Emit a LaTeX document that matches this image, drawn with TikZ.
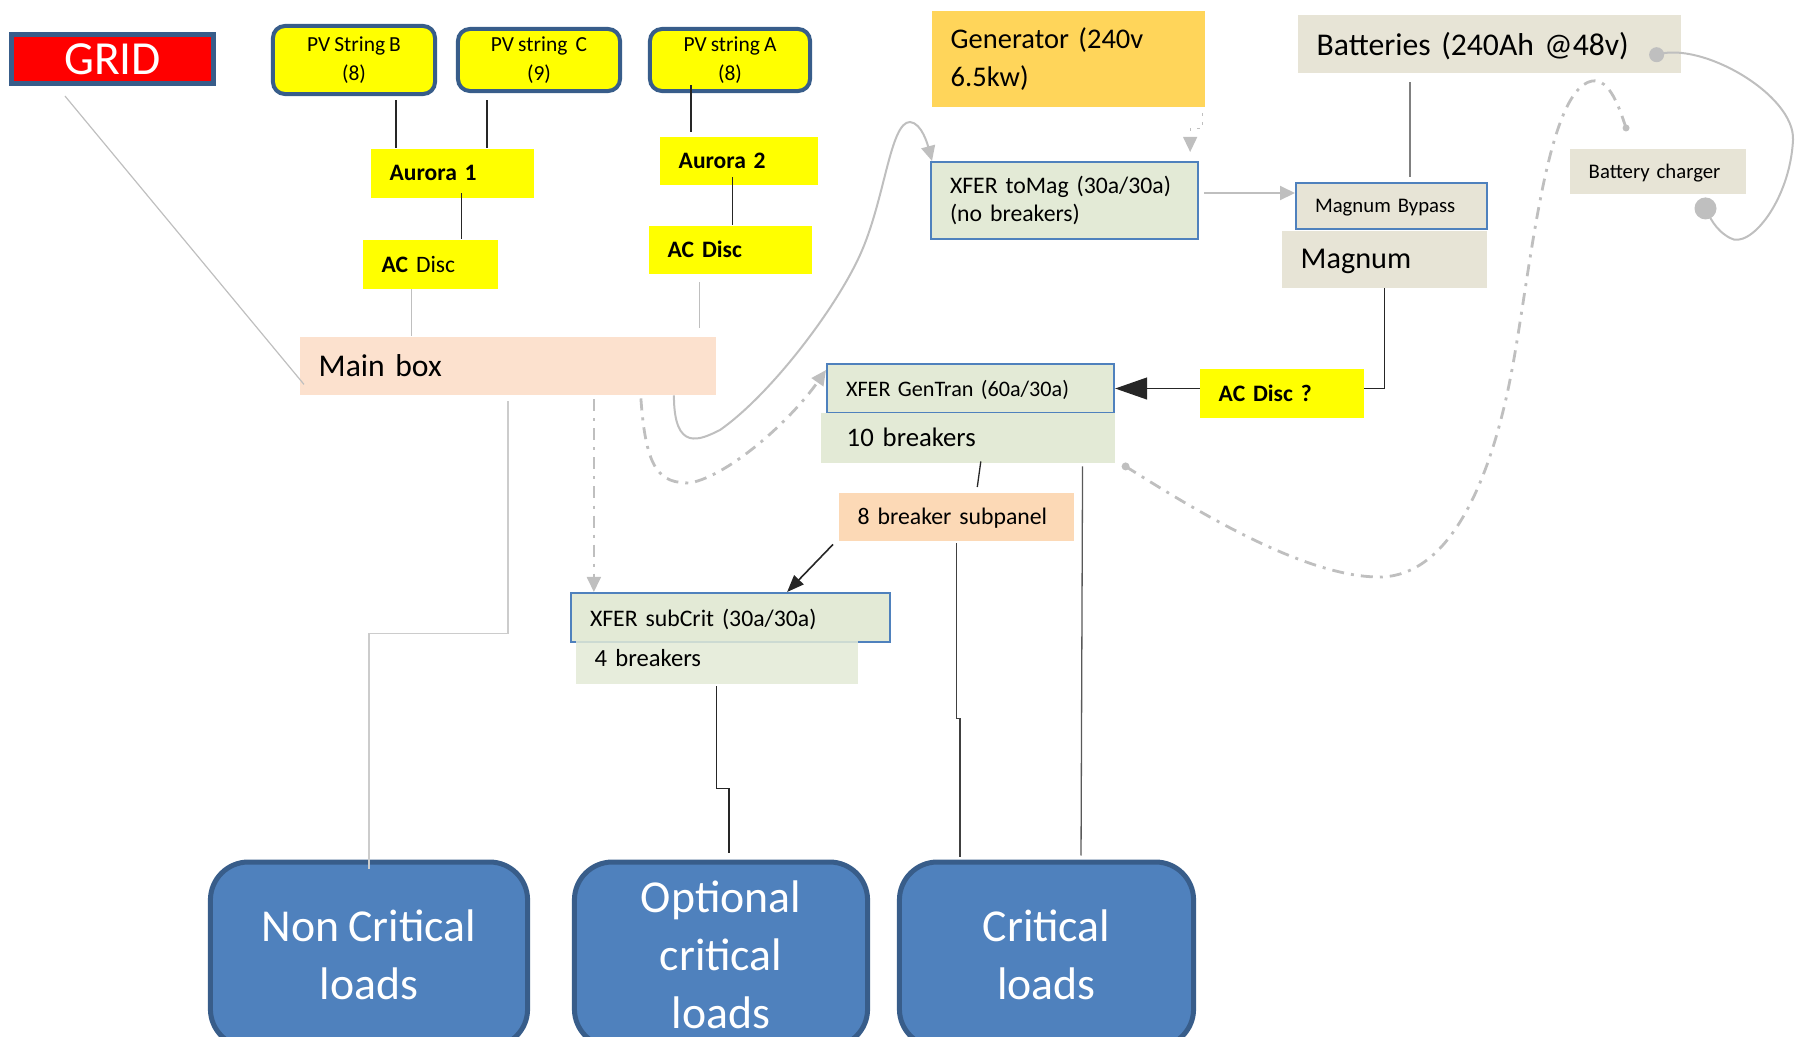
\documentclass[tikz,border=0pt]{standalone}
\usepackage{fontspec}
\setmainfont{Carlito}[WordSpace=0.85]
\usetikzlibrary{arrows.meta,backgrounds}
\definecolor{gridred}{HTML}{FF0000}
\definecolor{edgeblue}{HTML}{385D8A}
\definecolor{loadblue}{HTML}{4F81BD}
\definecolor{pvyellow}{HTML}{FFFF00}
\definecolor{genorange}{HTML}{FFD55A}
\definecolor{xfergreen}{HTML}{E3EAD6}
\definecolor{mainpeach}{HTML}{FCE1CE}
\definecolor{subpeach}{HTML}{FCD9B6}
\definecolor{battbeige}{HTML}{E7E4D6}
\definecolor{wiregray}{HTML}{BFBFBF}
\definecolor{wiredark}{HTML}{595959}
\tikzset{
  fsz/.style 2 args={font=\fontsize{#1}{#2}\selectfont},
  bxbase/.style={anchor=north west, align=left, inner xsep=0.19cm, inner ysep=0pt},
  bx/.style={bxbase, text depth=0pt},
  ylw/.style={bx, fill=pvyellow, font=\fontsize{6.7}{8}\selectfont\bfseries},
  xfer/.style={bx, fill=xfergreen, draw=loadblue, line width=0.02cm},
  tanbox/.style={bx, fill=battbeige},
  pv/.style={draw=edgeblue, line width=0.04cm, fill=pvyellow, rounded corners=0.12cm, align=center, inner sep=0pt, fsz={6.1}{8.4}},
  loadbox/.style={anchor=north, draw=edgeblue, line width=0.05cm, fill=loadblue, rounded corners=0.38cm, minimum width=3.17cm, minimum height=1.85cm, align=center, inner sep=0pt, text=white, fsz={13}{16.5}},
  wire/.style={line width=0.013cm, color=black!85},
  lgt/.style={line width=0.012cm, color=wiregray},
  dd/.style={dash pattern=on 0.12cm off 0.07cm on 0.03cm off 0.07cm},
  garr/.style={-{Triangle[length=0.15cm,width=0.14cm]}},
  barr/.style={-{Triangle[length=0.32cm,width=0.22cm]}},
  sarr/.style={-{Triangle[length=0.17cm,width=0.13cm]}},
}
\begin{document}
\begin{tikzpicture}[x=0.01cm, y=-0.01cm]
  \useasboundingbox (0,0) rectangle (1797,1037);
  % sources
  \node[fsz={13.5}{16}, draw=edgeblue, line width=0.05cm, fill=gridred, text=white, minimum width=2.02cm, minimum height=0.49cm, inner sep=0pt] (grid) at (112.5,59) {GRID};
  \node[pv, minimum width=1.62cm, minimum height=0.68cm] (pvB) at (354,60) {PV String B\\(8)};
  \node[pv, minimum width=1.62cm, minimum height=0.62cm] (pvC) at (539,60) {PV string~ C\\(9)};
  \node[pv, minimum width=1.60cm, minimum height=0.62cm] (pvA) at (730,60) {PV string A\\(8)};
  \node[bxbase, fill=genorange, fsz={8.1}{10.8}, text width=2.35cm, minimum height=0.96cm] (gen) at (931,10) {Generator (240v\\6.5kw)};
  \node[tanbox, fsz={9}{11}, text width=3.45cm, minimum height=0.58cm] (batt) at (1297,14) {Batteries (240Ah @48v)};
  % inverters and disconnects
  \node[ylw, text width=1.25cm, minimum height=0.49cm] (aurora1) at (370,148) {Aurora 1};
  \node[ylw, text width=1.20cm, minimum height=0.48cm] (aurora2) at (659,136) {Aurora 2};
  \node[ylw, text width=0.97cm, minimum height=0.49cm] (acdisc1) at (362,239) {AC {\mdseries Disc}};
  \node[ylw, text width=1.25cm, minimum height=0.48cm] (acdisc2) at (648,225) {AC Disc};
  \node[bx, fill=mainpeach, fsz={9}{11}, text width=3.78cm, minimum height=0.58cm] (mainbox) at (299,336) {Main box};
  % transfer switches
  \node[bxbase, fill=xfergreen, draw=loadblue, line width=0.02cm, fsz={6.75}{8}, text width=2.29cm, minimum height=0.77cm] (tomag) at (930,161) {XFER toMag (30a/30a)\\(no breakers)};
  \node[tanbox, draw=loadblue, line width=0.02cm, fsz={5.9}{7}, text width=1.53cm, minimum height=0.46cm] (bypass) at (1295,182) {Magnum Bypass};
  \node[tanbox, fsz={8.6}{10}, text width=1.67cm, minimum height=0.57cm] (magnum) at (1281,230) {Magnum};
  \node[tanbox, fsz={5.9}{7}, text width=1.38cm, minimum height=0.45cm] (charger) at (1569,148) {Battery charger};
  \node[ylw, text width=1.26cm, minimum height=0.49cm] (acq) at (1199,368) {AC Disc ?};
  \node[xfer, fsz={6.3}{7.5}, text width=2.49cm, minimum height=0.49cm] (gentran) at (826,363) {XFER GenTran (60a/30a)};
  \node[bx, fill=xfergreen, inner xsep=0.26cm, fsz={7.6}{9}, text width=2.42cm, minimum height=0.50cm] (tenbrk) at (820,412) {10 breakers};
  \node[bx, fill=subpeach, fsz={6.75}{8}, text width=1.97cm, minimum height=0.48cm] (subpanel) at (838,492) {8 breaker subpanel};
  \node[xfer, fsz={6.75}{8}, text width=2.81cm, minimum height=0.49cm] (subcrit) at (570,592) {XFER subCrit (30a/30a)};
  \node[bx, fill=xfergreen, fill opacity=0.85, text opacity=1, fsz={7}{8.5}, text width=2.44cm, minimum height=0.52cm] (fourbrk) at (575,631) {4 breakers};
  % loads
  \node[loadbox] (noncrit) at (369,859.5) {Non Critical\\loads};
  \node[loadbox, minimum width=2.93cm] (optional) at (721,859.5) {Optional\\critical\\loads};
  \node[loadbox, minimum width=2.94cm] (critical) at (1046.5,859.5) {Critical\\loads};

  \coordinate (mbA) at ([xshift=1.66cm]mainbox.south);
  \coordinate (mbB) at ([xshift=1.33cm,yshift=-0.03cm]mainbox.south);
  \coordinate (battdot) at ([xshift=-0.25cm,yshift=-0.11cm]batt.east);
  \coordinate (chgdot) at ([xshift=-0.41cm,yshift=-0.14cm]charger.south east);
  \coordinate (tendot) at ([xshift=0.10cm,yshift=-0.03cm]tenbrk.south east);
  \coordinate (chgtop) at ([xshift=0.57cm,yshift=0.20cm]charger.north west);

  % wiring
  \draw[lgt] ([xshift=-0.475cm,yshift=-0.1cm]grid.south) -- ([xshift=0.05cm,yshift=0.11cm]mainbox.south west);
  \draw[wire] ([xshift=0.42cm,yshift=-0.04cm]pvB.south) -- ([xshift=0.42cm]pvB.south |- aurora1.north);
  \draw[wire] ([xshift=-0.52cm,yshift=-0.07cm]pvC.south) -- ([xshift=-0.52cm]pvC.south |- aurora1.north);
  \draw[wire, shorten >=0.04cm] ([xshift=-0.39cm,yshift=0.08cm]pvA.south) -- ([xshift=-0.39cm]pvA.south |- aurora2.north);
  \draw[wire] ([xshift=0.095cm,yshift=0.05cm]aurora1.south) -- ([xshift=0.095cm]aurora1.south |- acdisc1.north);
  \draw[wire] ([xshift=-0.06cm,yshift=0.08cm]aurora2.south) -- ([xshift=-0.06cm]aurora2.south |- acdisc2.north);
  \draw[lgt] ([xshift=-0.185cm]acdisc1.south) -- ([xshift=-0.185cm]acdisc1.south |- mainbox.north);
  \draw[lgt, shorten >=0.08cm] ([xshift=-0.305cm,yshift=-0.08cm]acdisc2.south) -- ([xshift=-0.305cm]acdisc2.south |- mainbox.north);
  \draw[lgt, line width=0.016cm, color=wiregray!80] ([yshift=-0.06cm]mainbox.south) -- ++(0,232) -| ([yshift=-0.09cm]noncrit.north);
  \draw[lgt, line width=0.018cm, dd, garr] ([xshift=0.86cm,yshift=-0.04cm]mainbox.south) -- ([xshift=0.86cm]mainbox.south |- subcrit.north);
  \draw[lgt, line width=0.02cm, garr] (mbA) .. controls +(0,57) and +(-20,10) .. (720,430)
    .. controls +(50,-35) and +(-25,55) .. (860,255) .. controls +(25,-55) and +(-20,0) .. (910,122)
    .. controls +(12,1) and +(-4,-15) .. ([xshift=0.02cm]tomag.north west);
  \draw[lgt, line width=0.028cm, dd, garr] (mbB) .. controls +(5,73) and +(-30,0) .. (690,483)
    .. controls +(40,-8) and +(-35,50) .. ([yshift=-0.07cm]gentran.north west);
  \draw[lgt, line width=0.012cm, dash pattern=on 0.03cm off 0.06cm, garr] ([xshift=-0.03cm,yshift=-0.06cm]gen.south east) -- ++(0,15) -| ([xshift=-0.09cm,yshift=0.09cm]tomag.north east);
  \draw[lgt, line width=0.02cm, garr] ([xshift=0.05cm,yshift=0.075cm]tomag.east) -- ([yshift=0.075cm]tomag.east -| bypass.west);
  \draw[line width=0.02cm, color=gray, shorten <=0.09cm] ([xshift=0.185cm]bypass.north |- batt.south) -- ([xshift=0.185cm,yshift=0.05cm]bypass.north);
  \begin{scope}[on background layer]
    \draw[wire, barr] (magnum.south) |- (gentran.east);
  \end{scope}
  \draw[wire] ([xshift=0.13cm,yshift=0.02cm]tenbrk.south) -- ([xshift=0.21cm,yshift=0.05cm]subpanel.north);
  \draw[wire, line width=0.016cm, sarr] ([xshift=-0.05cm,yshift=-0.03cm]subpanel.south west) -- ([xshift=-1.04cm]subcrit.north east);
  \draw[wire, color=black!75] ([yshift=-0.02cm]subpanel.south) -- ++(0,175) -| ([xshift=-0.865cm,yshift=0.03cm]critical.north);
  \draw[wire, color=wiredark] ([xshift=-0.33cm,yshift=-0.03cm]tenbrk.south east) -- ([xshift=0.345cm,yshift=0.04cm]critical.north);
  \draw[wire] ([yshift=-0.02cm]fourbrk.south) -- ++(0,102) -| ([xshift=0.08cm,yshift=0.06cm]optional.north);
  % battery charger loop
  \draw[lgt, line width=0.02cm] (battdot) .. controls +(45,-14) and +(2,-45) .. (1793,140)
    .. controls +(-3,60) and +(20,12) .. (1730,238) .. controls +(-15,-8) and +(4,8) .. (chgdot);
  \fill[wiregray] (battdot) circle[radius=0.075cm];
  \fill[wiregray] (chgdot) circle[radius=0.11cm];
  \draw[lgt, line width=0.028cm, dd] (tendot) .. controls +(56,35) and +(-79,0) .. (1379,577)
    .. controls +(71,0) and +(-20,100) .. (1510,380) .. controls +(20,-100) and +(-47,9) .. (1592,81)
    .. controls +(18,-3) and +(-6,-18) .. (chgtop);
  \fill[wiregray] (tendot) circle[radius=0.04cm];
  \fill[wiregray] (chgtop) circle[radius=0.035cm];
\end{tikzpicture}
\end{document}
